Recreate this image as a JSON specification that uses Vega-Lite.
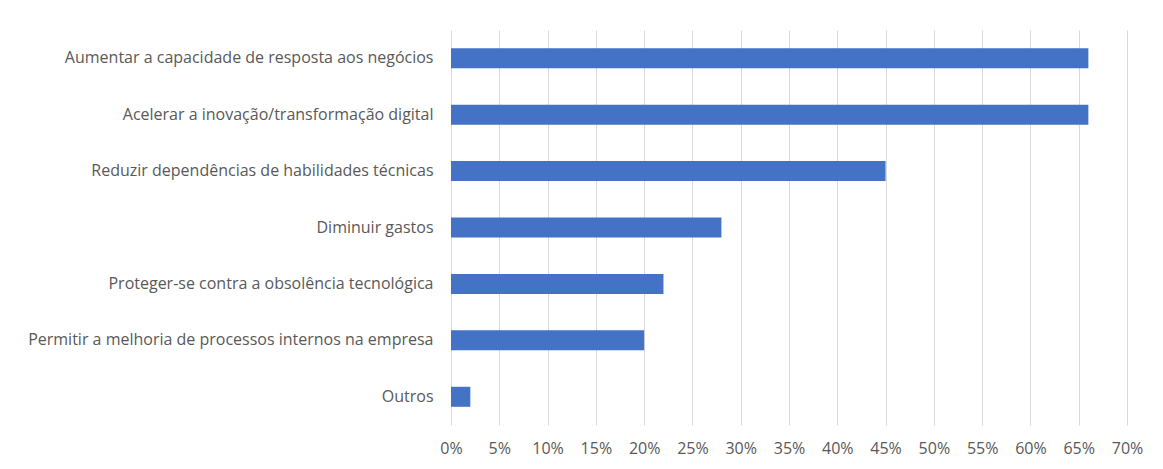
{
  "$schema": "https://vega.github.io/schema/vega-lite/v6.json",
  "autosize": {"type": "none"},
  "padding": {"left": 451, "top": 30, "right": 36, "bottom": 44},
  "width": 676,
  "height": 395,
  "background": "white",
  "data": {"values": [
    {"motivo": "Aumentar a capacidade de resposta aos negócios", "pct": 0.66},
    {"motivo": "Acelerar a inovação/transformação digital", "pct": 0.66},
    {"motivo": "Reduzir dependências de habilidades técnicas", "pct": 0.45},
    {"motivo": "Diminuir gastos", "pct": 0.28},
    {"motivo": "Proteger-se contra a obsolência tecnológica", "pct": 0.22},
    {"motivo": "Permitir a melhoria de processos internos na empresa", "pct": 0.20},
    {"motivo": "Outros", "pct": 0.02}
  ]},
  "mark": {"type": "bar", "color": "#4472C4"},
  "encoding": {
    "y": {
      "field": "motivo", "type": "nominal", "sort": null,
      "scale": {"paddingInner": 0.645, "paddingOuter": 0.3225},
      "axis": {"title": null, "domain": false, "ticks": false, "labelPadding": 18,
               "labelFont": "Open Sans", "labelFontSize": 16, "labelColor": "#595959", "labelLimit": 0}
    },
    "x": {
      "field": "pct", "type": "quantitative",
      "scale": {"domain": [0, 0.7], "nice": false},
      "axis": {"title": null, "format": ".0%", "values": [0,0.05,0.1,0.15,0.2,0.25,0.3,0.35,0.4,0.45,0.5,0.55,0.6,0.65,0.7],
               "domain": false, "ticks": false, "grid": true, "gridColor": "#d9d9d9", "gridWidth": 1,
               "labelFlush": false, "labelPadding": 15, "labelFont": "Open Sans", "labelFontSize": 16, "labelColor": "#595959"}
    }
  },
  "config": {"view": {"stroke": null}}
}
